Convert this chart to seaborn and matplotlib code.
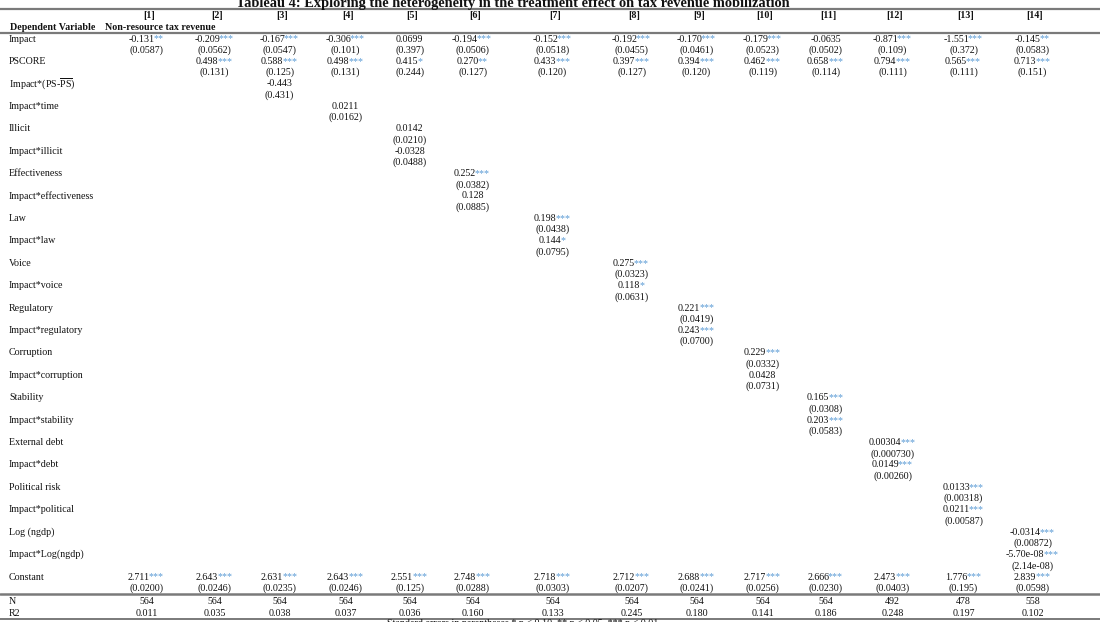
import matplotlib
matplotlib.use('Agg')
import matplotlib.pyplot as plt
import seaborn as sns

# Modeles et valeurs du tableau
models = ['[1]', '[2]', '[3]', '[4]', '[5]', '[6]', '[7]', '[8]', '[9]', '[10]', '[11]', '[12]', '[13]', '[14]']

impact_b = ['-0.131', '-0.209', '-0.167', '-0.306', '0.0699', '-0.194', '-0.152', '-0.192', '-0.170',
            '-0.179', '-0.0635', '-0.871', '-1.551', '-0.145']
impact_se = ['0.0587', '0.0562', '0.0547', '0.101', '0.397', '0.0506', '0.0518', '0.0455', '0.0461',
             '0.0523', '0.0502', '0.109', '0.372', '0.0583']
impact_st = ['**', '***', '***', '***', '', '***', '***', '***', '***', '***', '', '***', '***', '**']

# PSCORE: modeles 2 a 14
pscore_b = ['0.498', '0.588', '0.498', '0.415', '0.270', '0.433', '0.397', '0.394', '0.462', '0.658',
            '0.794', '0.565', '0.713']
pscore_se = ['0.131', '0.125', '0.131', '0.244', '0.127', '0.120', '0.127', '0.120', '0.119', '0.114',
             '0.111', '0.111', '0.151']
pscore_st = ['***', '***', '***', '*', '**', '***', '***', '***', '***', '***', '***', '***', '***']

# variables d'interaction (une seule colonne chacune)
inter_labels = ['Impact*(PS-$\\overline{\\mathrm{PS}}$)', 'Impact*time', 'Illicit', 'Impact*illicit',
                'Effectiveness', 'Impact*effectiveness', 'Law', 'Impact*law', 'Voice', 'Impact*voice',
                'Regulatory', 'Impact*regulatory', 'Corruption', 'Impact*corruption', 'Stability',
                'Impact*stability', 'External debt', 'Impact*debt', 'Political risk', 'Impact*political',
                'Log (ngdp)', 'Impact*Log(ngdp)']
inter_model = [3, 4, 5, 5, 6, 6, 7, 7, 8, 8, 9, 9, 10, 10, 11, 11, 12, 12, 13, 13, 14, 14]
inter_b = ['-0.443', '0.0211', '0.0142', '-0.0328', '0.252', '0.128', '0.198', '0.144', '0.275', '0.118',
           '0.221', '0.243', '0.229', '0.0428', '0.165', '0.203', '0.00304', '0.0149', '0.0133', '0.0211',
           '-0.0314', '-5.70e-08']
inter_se = ['0.431', '0.0162', '0.0210', '0.0488', '0.0382', '0.0885', '0.0438', '0.0795', '0.0323',
            '0.0631', '0.0419', '0.0700', '0.0332', '0.0731', '0.0308', '0.0583', '0.000730', '0.00260',
            '0.00318', '0.00587', '0.00872', '2.14e-08']
inter_st = ['', '', '', '', '***', '', '***', '*', '***', '*', '***', '***', '***', '', '***', '***',
            '***', '***', '***', '***', '***', '***']

const_b = ['2.711', '2.643', '2.631', '2.643', '2.551', '2.748', '2.718', '2.712', '2.688', '2.717',
           '2.666', '2.473', '1.776', '2.839']
const_se = ['0.0200', '0.0246', '0.0235', '0.0246', '0.125', '0.0288', '0.0303', '0.0207', '0.0241',
            '0.0256', '0.0230', '0.0403', '0.195', '0.0598']
n_obs = [564, 564, 564, 564, 564, 564, 564, 564, 564, 564, 564, 492, 478, 558]
r2 = ['0.011', '0.035', '0.038', '0.037', '0.036', '0.160', '0.133', '0.245', '0.180', '0.141',
      '0.186', '0.248', '0.197', '0.102']

sns.set_theme(style='white')
plt.rcParams['font.family'] = ['Liberation Serif', 'DejaVu Serif']
plt.rcParams['mathtext.fontset'] = 'custom'
plt.rcParams['mathtext.rm'] = 'Liberation Serif'

# mise en page (pixels)
col_x = [146, 214, 279, 345, 409, 472, 552, 631, 696, 762, 825, 892, 963, 1032]
row0, pitch, se_gap = 39, 22.42, 11.2
fs = 7.2
ink = '#111111'
star_col = '#5b9bd5'
rule = '#7a7a7a'

fig = plt.figure(figsize=(11, 6.22), dpi=100)
ax = fig.add_axes([0, 0, 1, 1])
ax.set_xlim(0, 1100)
ax.set_ylim(622, 0)
ax.axis('off')
renderer = fig.canvas.get_renderer()


def cell(x, y, num, stars=''):
    t = ax.text(0, y, num, fontsize=fs, color=ink, ha='left', va='center')
    w1 = t.get_window_extent(renderer).width - 1.2
    w2 = 0
    if stars:
        s = ax.text(0, y, stars, fontsize=fs, color=star_col, ha='left', va='center')
        w2 = s.get_window_extent(renderer).width
    left = x - (w1 + w2) / 2
    t.set_x(left)
    if stars:
        s.set_x(left + w1)


# titre et en-tete
ax.text(513, 6.5, 'Tableau 4: Exploring the heterogeneity in the treatment effect on tax revenue mobilization',
        fontsize=10.4, fontweight='bold', color=ink, ha='center', va='baseline')
ax.axhline(9, color=rule, lw=1.6)
for j, m in enumerate(models):
    ax.text(col_x[j] + 3, 15, m, fontsize=fs, fontweight='bold', color=ink, ha='center', va='center')
ax.text(10, 27, 'Dependent Variable', fontsize=fs, fontweight='bold', color=ink, ha='left', va='center')
ax.text(105, 27, 'Non-resource tax revenue', fontsize=fs, fontweight='bold', color=ink, ha='left', va='center')
ax.axhline(33, color=rule, lw=1.6)

# Impact
y = row0
ax.text(9, y, 'Impact', fontsize=fs, color=ink, ha='left', va='center')
for j in range(14):
    cell(col_x[j], y, impact_b[j], impact_st[j])
    cell(col_x[j], y + se_gap, '(' + impact_se[j] + ')')

# PSCORE
y = row0 + pitch
ax.text(9, y, 'PSCORE', fontsize=fs, color=ink, ha='left', va='center')
for k in range(13):
    cell(col_x[k + 1], y, pscore_b[k], pscore_st[k])
    cell(col_x[k + 1], y + se_gap, '(' + pscore_se[k] + ')')

# interactions
for i, lab in enumerate(inter_labels):
    y = row0 + pitch * (i + 2)
    ax.text(9, y, lab, fontsize=fs, color=ink, ha='left', va='center')
    j = inter_model[i] - 1
    cell(col_x[j], y, inter_b[i], inter_st[i])
    cell(col_x[j], y + se_gap, '(' + inter_se[i] + ')')

# Constant
y = row0 + pitch * 24
ax.text(9, y, 'Constant', fontsize=fs, color=ink, ha='left', va='center')
for j in range(14):
    cell(col_x[j], y, const_b[j], '***')
    cell(col_x[j], y + se_gap, '(' + const_se[j] + ')')

ax.axhline(594, color=rule, lw=1.8)
ax.text(9, 601, 'N', fontsize=fs, color=ink, ha='left', va='center')
ax.text(9, 613, 'R2', fontsize=fs, color=ink, ha='left', va='center')
for j in range(14):
    cell(col_x[j], 601, str(n_obs[j]))
    cell(col_x[j], 613, r2[j])
ax.axhline(618.5, color=rule, lw=1.4)

ax.text(387, 619.5, 'Standard errors in parentheses * p < 0.10, ** p < 0.05, *** p < 0.01',
        fontsize=fs, color=ink, ha='left', va='top')

fig.savefig('out.png', dpi=100)
